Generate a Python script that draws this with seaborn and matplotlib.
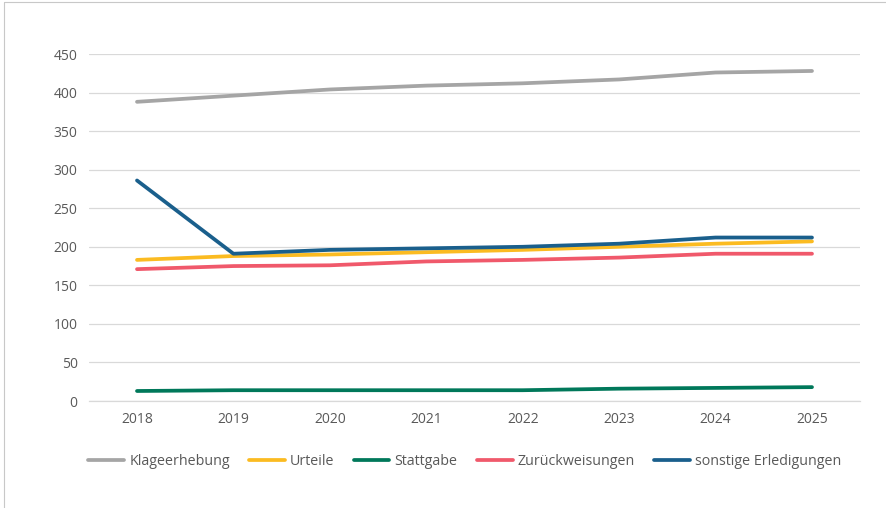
import pandas as pd
import matplotlib.pyplot as plt
import seaborn as sns
from matplotlib.lines import Line2D

years = [2018, 2019, 2020, 2021, 2022, 2023, 2024, 2025]
klageerhebung = [388, 396, 404, 409, 412, 417, 426, 428]
urteile = [183, 188, 190, 193, 196, 200, 204, 207]
stattgabe = [13, 14, 14, 14, 14, 16, 17, 18]
zurueckweisungen = [171, 175, 176, 181, 183, 186, 191, 191]
sonstige = [286, 191, 196, 198, 200, 204, 212, 212]

series_names = ['Klageerhebung', 'Urteile', 'Stattgabe', 'Zurückweisungen', 'sonstige Erledigungen']
series_values = [klageerhebung, urteile, stattgabe, zurueckweisungen, sonstige]
colors = ['#a5a5a5', '#fbbb21', '#00785a', '#f0596b', '#1a5f8c']

rows = []
for name, vals in zip(series_names, series_values):
    for y, v in zip(years, vals):
        rows.append({'Jahr': y, 'Wert': v, 'Serie': name})
df = pd.DataFrame(rows)

sns.set_style('white')
plt.rcParams['font.family'] = ['Open Sans', 'DejaVu Sans']

fig = plt.figure(figsize=(8.87, 5.08), dpi=100)
ax = fig.add_axes([0.1001, 0.2106, 0.8697, 0.6831])

sns.lineplot(data=df, x='Jahr', y='Wert', hue='Serie', hue_order=series_names,
             palette=dict(zip(series_names, colors)), linewidth=2.7, ax=ax,
             legend=False, solid_capstyle='round', solid_joinstyle='round')

ax.set_xlim(2017.5, 2025.5)
ax.set_ylim(0, 450)
ax.set_yticks(range(0, 451, 50))
ax.set_xticks(years)
ax.grid(axis='y', color='#d9d9d9', linewidth=0.9)
ax.set_axisbelow(True)
for s in ['top', 'right', 'left']:
    ax.spines[s].set_visible(False)
ax.spines['bottom'].set_color('#d9d9d9')
ax.spines['bottom'].set_linewidth(0.9)
ax.tick_params(axis='both', length=0, labelsize=10, colors='#595959', pad=8)
ax.set_xlabel('')
ax.set_ylabel('')

handles = [Line2D([0], [0], color=c, linewidth=2.7, solid_capstyle='round') for c in colors]
fig.legend(handles, series_names, loc='center', bbox_to_anchor=(0.524, 0.0925), ncol=5,
           frameon=False, fontsize=10.3, handlelength=2.5, handletextpad=0.35,
           columnspacing=1.35, labelcolor='#595959')

# chart frame (only left and top edges visible)
fig.add_artist(Line2D([0.005, 0.005], [0, 0.996], color='#c8c8c8', linewidth=0.8,
                      transform=fig.transFigure))
fig.add_artist(Line2D([0.005, 1], [0.996, 0.996], color='#c8c8c8', linewidth=0.8,
                      transform=fig.transFigure))

fig.savefig('out.png', dpi=100)
